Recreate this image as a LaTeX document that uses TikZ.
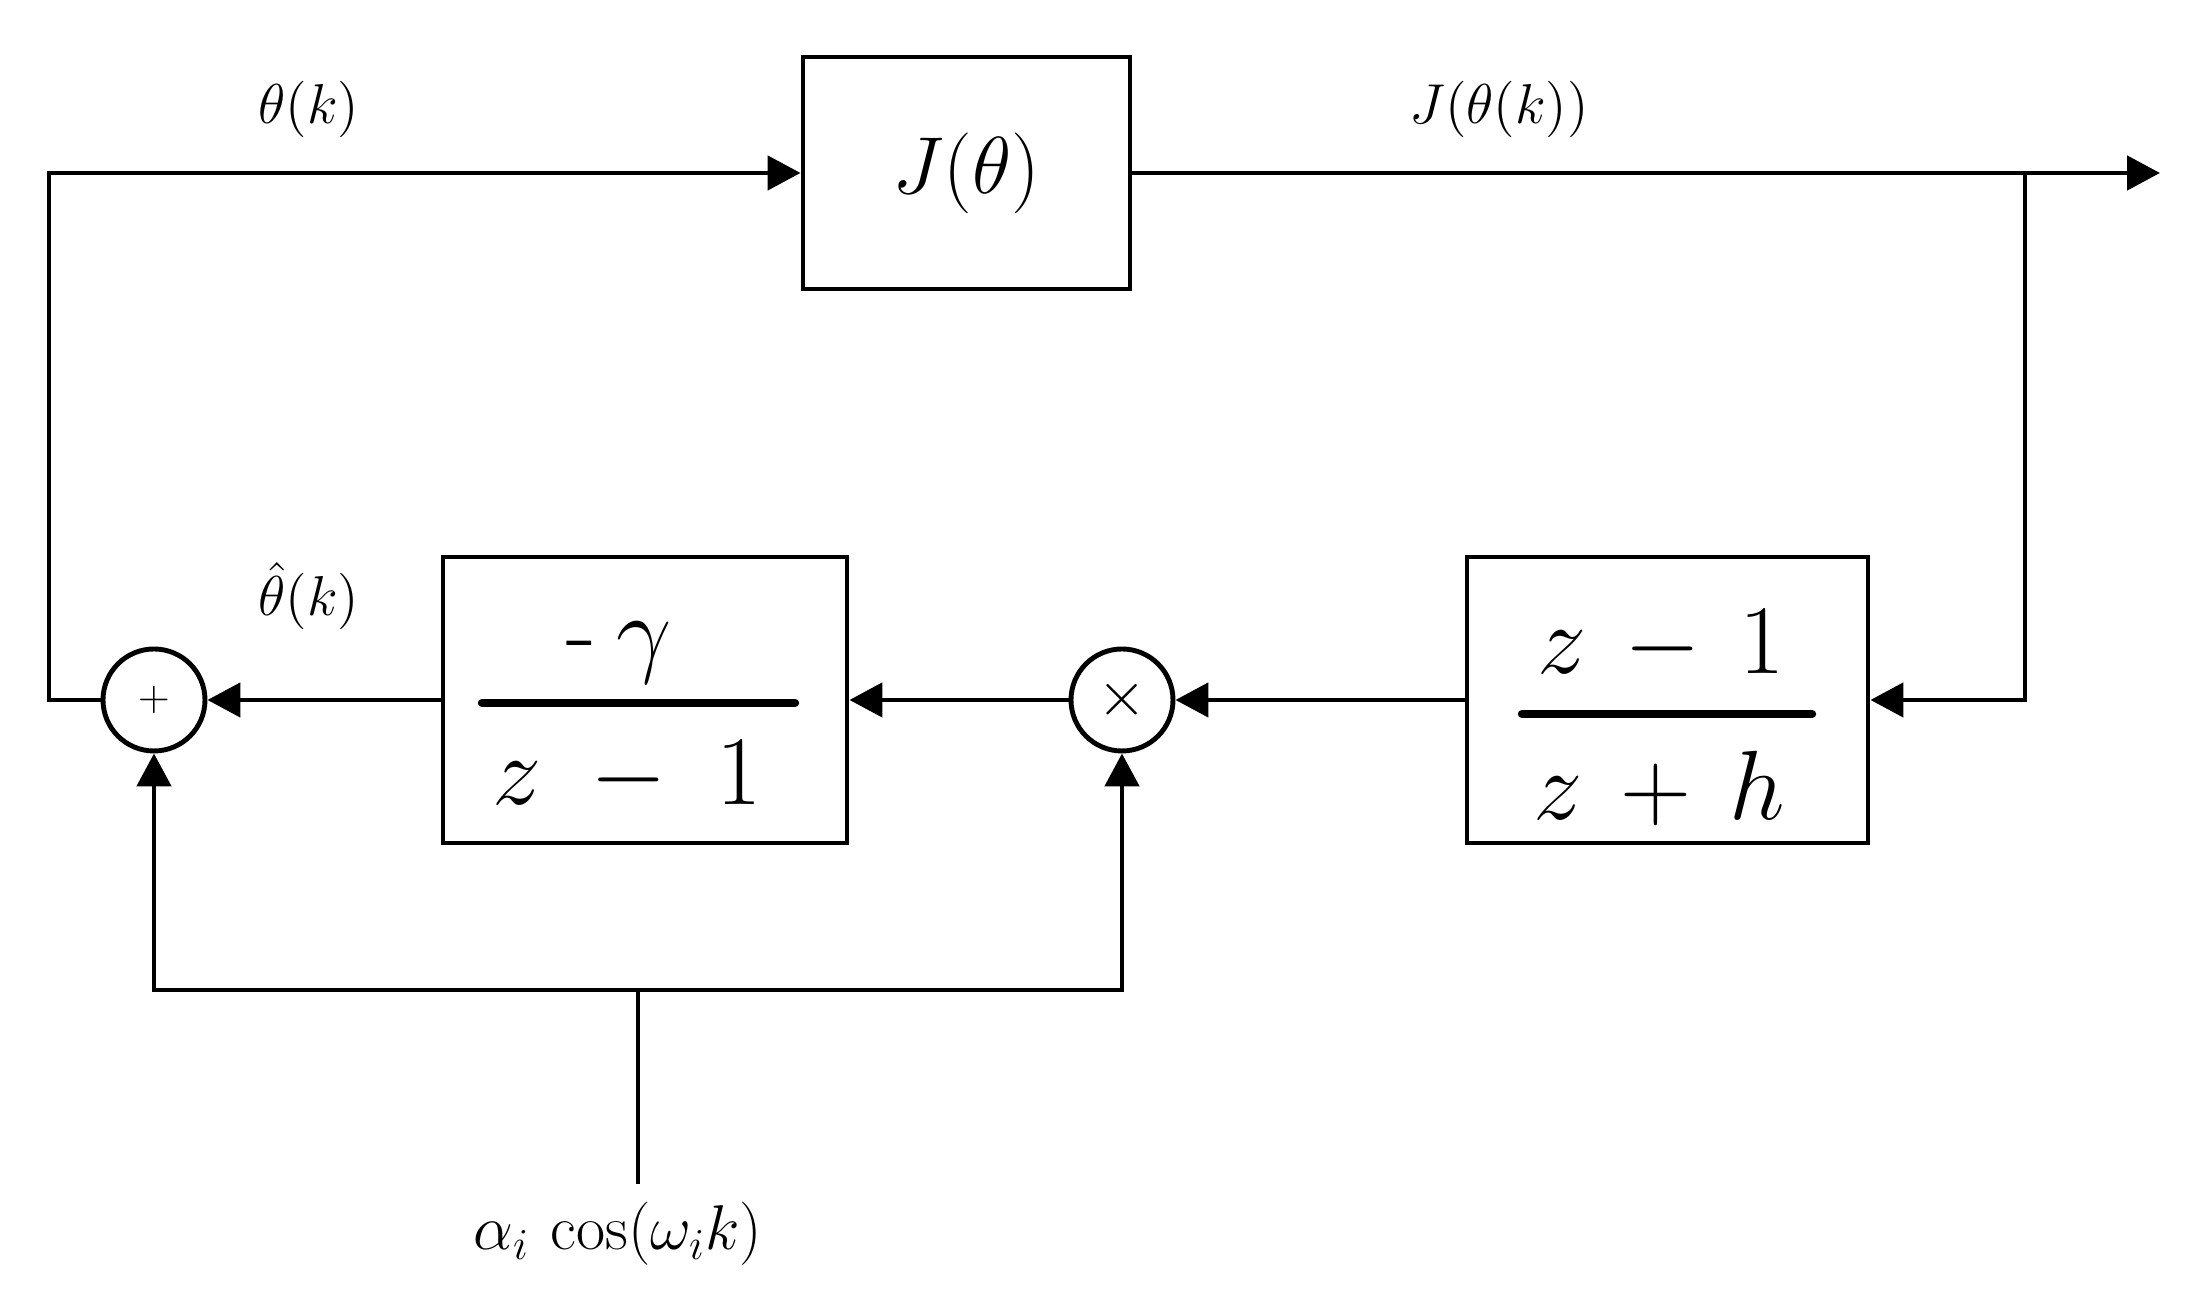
\RequirePackage{fix-cm}
\documentclass[tikz,border=0pt]{standalone}
\usetikzlibrary{arrows.meta}

\begin{document}
\begin{tikzpicture}[
    line width=1.4pt,
    >={Triangle[length=3.3mm,width=3.4mm]},
    block/.style={draw, rectangle, inner sep=0pt},
    junction/.style={draw, circle, minimum size=1.02cm, inner sep=0pt},
    sig/.style={font=\fontsize{16}{19}\selectfont, anchor=base},
    fracpart/.style={font=\fontsize{28}{32}\selectfont, anchor=base},
    fracbar/.style={line width=2.4pt, line cap=round}
  ]
  \useasboundingbox (0,0) rectangle (22.04,13.14);

  % blocks
  \node[block, minimum width=3.27cm, minimum height=2.32cm,
        font=\fontsize{23}{27}\selectfont] (J) at (9.665,11.41) {$J(\theta)$};
  \node[block, minimum width=4.04cm, minimum height=2.86cm] (G) at (6.45,6.14) {};
  \node[block, minimum width=4.01cm, minimum height=2.86cm] (H) at (16.675,6.14) {};

  \node[junction, font=\fontsize{12}{14}\selectfont] (sum) at (1.54,6.14) {$+$};
  \node[junction, font=\fontsize{18}{21}\selectfont] (mul) at (11.22,6.14) {$\times$};

  % fractions
  \node[fracpart] (Gnum) at (6.19,6.49) {-\hspace{0.2em}$\gamma$};
  \node[fracpart] (Gden) at (6.27,5.09) {$z\;-\;1$};
  \draw[fracbar] (4.82,6.11) -- (7.95,6.11);

  \node[fracpart] (Hnum) at (16.61,6.40) {$z\,-\,1$};
  \node[fracpart] (Hden) at (16.59,4.94) {$z\,+\,h$};
  \draw[fracbar] (15.22,6.00) -- (18.12,6.00);

  % signals
  \node[sig] (thk) at (3.09,11.90) {$\theta(k)$};
  \node[sig] (Jthk) at (14.99,11.90) {$J(\theta(k))$};
  \node[sig] (thhat) at (3.09,6.98) {$\hat{\theta}(k)$};
  \node[font=\fontsize{18}{21}\selectfont, anchor=base] (dither) at (6.18,0.64)
       {$\alpha_i\,\cos(\omega_i k)$};

  \coordinate (corner) at (0.49,11.41);
  \coordinate (branch) at (20.25,11.41);
  \coordinate (out) at (21.60,11.41);
  \coordinate (split) at (6.38,3.24);
  \coordinate (src) at (6.38,1.30);

  \begin{scope}[->]
      \draw (sum.west) -| (corner) -- (J.west);
      \draw (J.east) -- (out);
      \draw (branch) |- (H.east);
      \draw (H.west) -- (mul.east);
      \draw (mul.west) -- (G.east);
      \draw (G.west) -- (sum.east);
      \draw (src) -- (split) -| (sum.south);
      \draw (split) -| (mul.south);
  \end{scope}
\end{tikzpicture}
\end{document}
